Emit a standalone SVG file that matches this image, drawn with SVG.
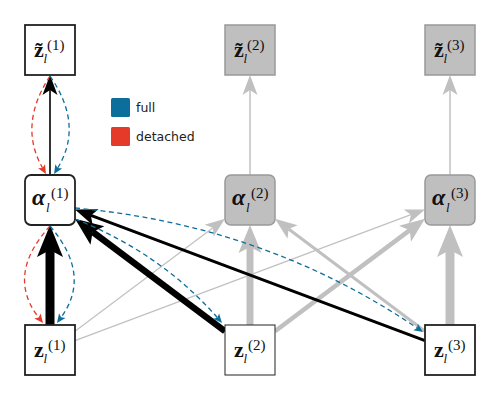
<svg xmlns="http://www.w3.org/2000/svg" width="500" height="400" viewBox="0 0 500 400">
<style>
.nb{fill:#fff;stroke:#222;stroke-width:1.8}
.nt{fill:#fff;stroke:#222;stroke-width:1}
.ng{fill:#bfbfbf;stroke:#999;stroke-width:1.5}
.lbl{font-family:"Liberation Serif","DejaVu Serif",serif;fill:#111}
.b{font-weight:bold;font-size:22px}
.a{font-weight:bold;font-style:italic;font-size:24px}
.sub{font-style:italic;font-size:13px}
.sup{font-size:15px}
.k{fill:none;stroke:#000;stroke-linecap:butt}
.g{fill:none;stroke:#c0c0c0;stroke-linecap:butt}
.db{fill:none;stroke:#0e6e9b;stroke-width:1.3;stroke-dasharray:5,3.5}
.dr{fill:none;stroke:#e5392a;stroke-width:1.3;stroke-dasharray:5,3.5}
.leg{font-family:"DejaVu Sans",sans-serif;font-size:12.5px;fill:#222}
</style>
<defs>
<marker id="k1" markerUnits="userSpaceOnUse" orient="auto" overflow="visible" markerWidth="1" markerHeight="1"><path d="M-5,-7.5L15,0L-5,7.5L0,0Z" fill="#000"/></marker>
<marker id="k2" markerUnits="userSpaceOnUse" orient="auto" overflow="visible" markerWidth="1" markerHeight="1"><path d="M-5,-8.5L17,0L-5,8.5L0,0Z" fill="#000"/></marker>
<marker id="k4" markerUnits="userSpaceOnUse" orient="auto" overflow="visible" markerWidth="1" markerHeight="1"><path d="M-6,-11.5L22,0L-6,11.5L0,0Z" fill="#000"/></marker>
<marker id="k5" markerUnits="userSpaceOnUse" orient="auto" overflow="visible" markerWidth="1" markerHeight="1"><path d="M-7,-13L25,0L-7,13L0,0Z" fill="#000"/></marker>
<marker id="g1" markerUnits="userSpaceOnUse" orient="auto" overflow="visible" markerWidth="1" markerHeight="1"><path d="M-5,-7.5L15,0L-5,7.5L0,0Z" fill="#c0c0c0"/></marker>
<marker id="g2" markerUnits="userSpaceOnUse" orient="auto" overflow="visible" markerWidth="1" markerHeight="1"><path d="M-5,-8.5L17,0L-5,8.5L0,0Z" fill="#c0c0c0"/></marker>
<marker id="g3" markerUnits="userSpaceOnUse" orient="auto" overflow="visible" markerWidth="1" markerHeight="1"><path d="M-6,-10L19,0L-6,10L0,0Z" fill="#c0c0c0"/></marker>
<marker id="g4" markerUnits="userSpaceOnUse" orient="auto" overflow="visible" markerWidth="1" markerHeight="1"><path d="M-6,-11.5L22,0L-6,11.5L0,0Z" fill="#c0c0c0"/></marker>
<marker id="g5" markerUnits="userSpaceOnUse" orient="auto" overflow="visible" markerWidth="1" markerHeight="1"><path d="M-7,-13L25,0L-7,13L0,0Z" fill="#c0c0c0"/></marker>
<marker id="mb" markerUnits="userSpaceOnUse" orient="auto" overflow="visible" markerWidth="1" markerHeight="1"><path d="M-2,-4L7,0L-2,4L0,0Z" fill="#0e6e9b"/></marker>
<marker id="mr" markerUnits="userSpaceOnUse" orient="auto" overflow="visible" markerWidth="1" markerHeight="1"><path d="M-2,-4L7,0L-2,4L0,0Z" fill="#e5392a"/></marker>
</defs>

<g id="connectors">
  <line class="g" stroke-width="1.2" x1="75" y1="331.25" x2="213" y2="227.75" marker-end="url(#g1)"/>
  <line class="g" stroke-width="1.2" x1="75" y1="340.6" x2="410.96" y2="214.67" marker-end="url(#g1)"/>
  <line class="g" stroke-width="7" x1="250" y1="325" x2="250" y2="247" marker-end="url(#g4)"/>
  <line class="g" stroke-width="4.5" x1="275" y1="331.25" x2="409.8" y2="230.15" marker-end="url(#g3)"/>
  <line class="g" stroke-width="3" x1="425" y1="331.25" x2="288.6" y2="228.95" marker-end="url(#g2)"/>
  <line class="g" stroke-width="9" x1="450" y1="325" x2="450" y2="250" marker-end="url(#g5)"/>
  <line class="g" stroke-width="1.5" x1="250" y1="175" x2="250" y2="90" marker-end="url(#g1)"/>
  <line class="g" stroke-width="1.5" x1="450" y1="175" x2="450" y2="90" marker-end="url(#g1)"/>
  <line class="k" stroke-width="1.6" x1="50" y1="175" x2="50" y2="90" marker-end="url(#k1)"/>
  <line class="k" stroke-width="9" x1="50" y1="325" x2="50" y2="250" marker-end="url(#k5)"/>
  <line class="k" stroke-width="6.5" x1="225" y1="331.25" x2="92.6" y2="231.95" marker-end="url(#k4)"/>
  <line class="k" stroke-width="3" x1="425" y1="340.6" x2="90.9" y2="215.4" marker-end="url(#k2)"/>
  <path class="dr" d="M50,76Q18,125 42.5,167.9" marker-end="url(#mr)"/>
  <path class="db" d="M50,76Q84,125 57.7,168" marker-end="url(#mb)"/>
  <path class="dr" d="M50,226Q5.5,275 38.7,317.5" marker-end="url(#mr)"/>
  <path class="db" d="M50,226Q92,275 61.1,317.3" marker-end="url(#mb)"/>
  <path class="db" d="M75,208Q265,225 417.2,328.1" marker-end="url(#mb)"/>
  <path class="db" d="M75,219Q161,253 217.4,317.7" marker-end="url(#mb)"/>
</g>

<g id="legend">
  <rect x="111" y="98" width="19" height="19" rx="1.5" fill="#0e6e9b"/>
  <text class="leg" x="136" y="112">full</text>
  <rect x="111" y="127" width="19" height="19" rx="1.5" fill="#e5392a"/>
  <text class="leg" x="136" y="141">detached</text>
</g>

<g id="zt1">
  <rect class="nb" x="25" y="25" width="50" height="50"/>
  <text class="lbl"><tspan class="b" x="34" y="57">z̃</tspan><tspan class="sub" x="43.5" y="63">l</tspan><tspan class="sup" x="47" y="50">(1)</tspan></text>
</g>
<g id="zt2">
  <rect class="ng" x="225" y="25" width="50" height="50"/>
  <text class="lbl"><tspan class="b" x="234" y="57">z̃</tspan><tspan class="sub" x="243.5" y="63">l</tspan><tspan class="sup" x="247" y="50">(2)</tspan></text>
</g>
<g id="zt3">
  <rect class="ng" x="425" y="25" width="50" height="50"/>
  <text class="lbl"><tspan class="b" x="434" y="57">z̃</tspan><tspan class="sub" x="443.5" y="63">l</tspan><tspan class="sup" x="447" y="50">(3)</tspan></text>
</g>

<g id="a1">
  <rect class="nb" x="25" y="175" width="50" height="50" rx="6"/>
  <text class="lbl"><tspan class="a" x="32" y="205">α</tspan><tspan class="sub" x="46" y="212">l</tspan><tspan class="sup" x="51" y="198">(1)</tspan></text>
</g>
<g id="a2">
  <rect class="ng" x="225" y="175" width="50" height="50" rx="6"/>
  <text class="lbl"><tspan class="a" x="232" y="205">α</tspan><tspan class="sub" x="246" y="212">l</tspan><tspan class="sup" x="251" y="198">(2)</tspan></text>
</g>
<g id="a3">
  <rect class="ng" x="425" y="175" width="50" height="50" rx="6"/>
  <text class="lbl"><tspan class="a" x="432" y="205">α</tspan><tspan class="sub" x="446" y="212">l</tspan><tspan class="sup" x="451" y="198">(3)</tspan></text>
</g>

<g id="z1">
  <rect class="nb" x="25" y="325" width="50" height="50"/>
  <text class="lbl"><tspan class="b" x="34" y="357">z</tspan><tspan class="sub" x="43.5" y="363">l</tspan><tspan class="sup" x="48" y="350">(1)</tspan></text>
</g>
<g id="z2">
  <rect class="nt" x="225" y="325" width="50" height="50"/>
  <text class="lbl"><tspan class="b" x="234" y="357">z</tspan><tspan class="sub" x="243.5" y="363">l</tspan><tspan class="sup" x="248" y="350">(2)</tspan></text>
</g>
<g id="z3">
  <rect class="nb" x="425" y="325" width="50" height="50"/>
  <text class="lbl"><tspan class="b" x="434" y="357">z</tspan><tspan class="sub" x="443.5" y="363">l</tspan><tspan class="sup" x="448" y="350">(3)</tspan></text>
</g>
</svg>
